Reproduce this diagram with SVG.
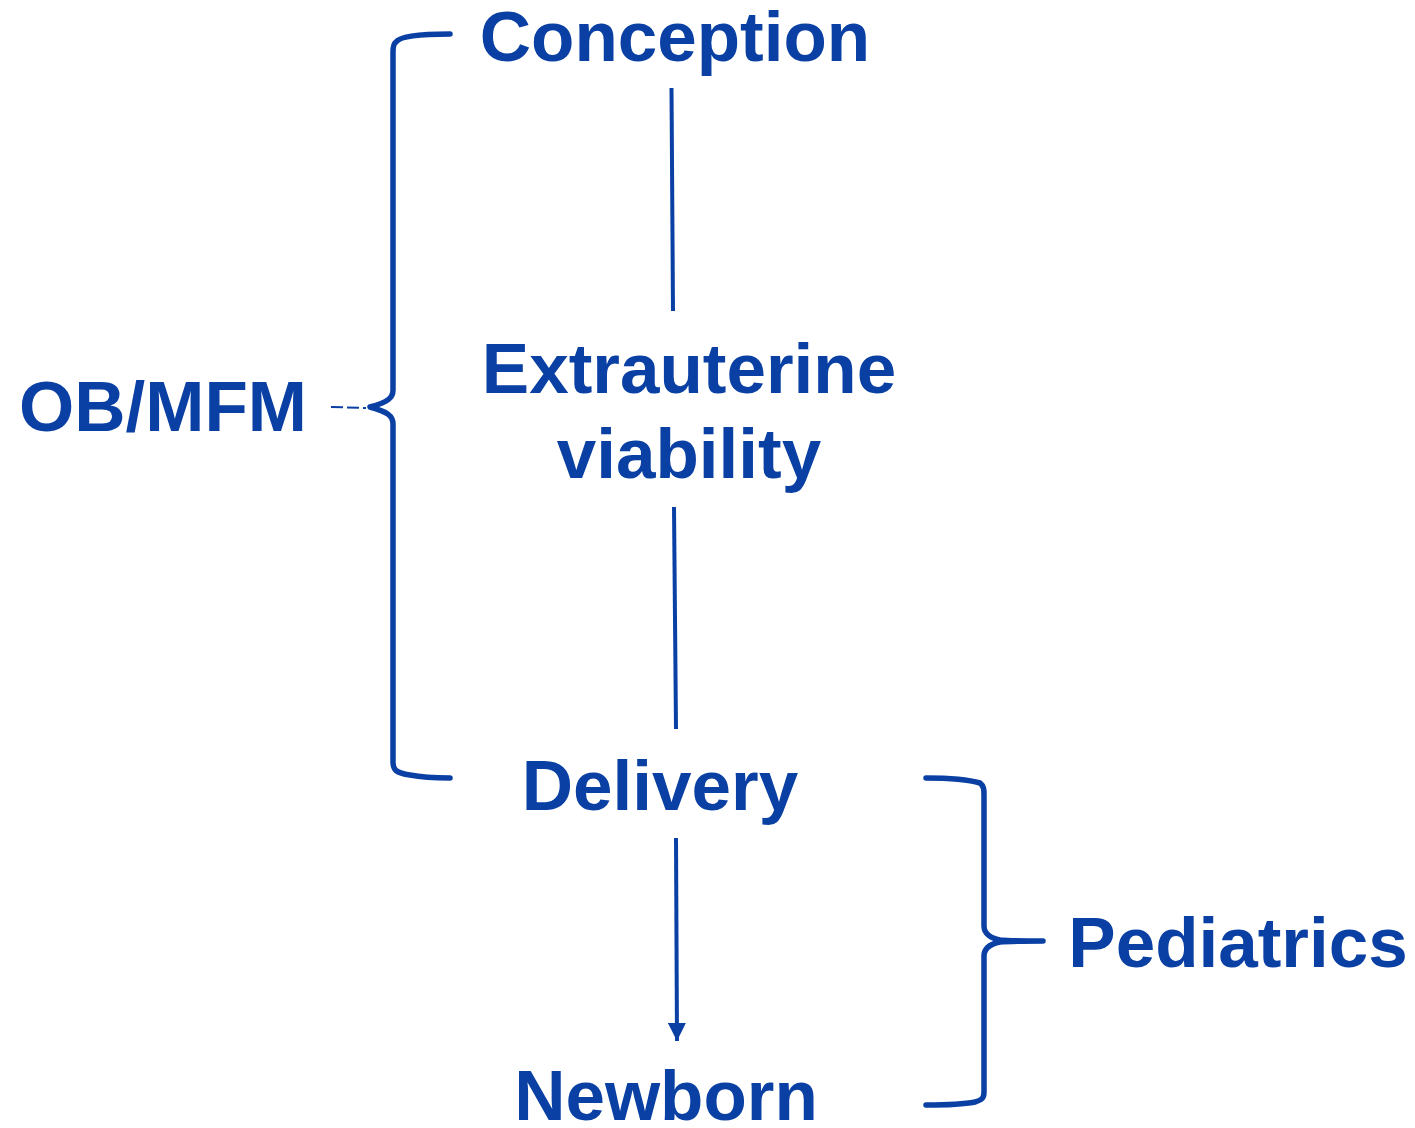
<svg xmlns="http://www.w3.org/2000/svg" width="1415" height="1128" viewBox="0 0 1415 1128">
<style>
.t{font-family:"Liberation Sans",Arial,sans-serif;font-weight:bold;font-size:71px;fill:#0A40A4;text-anchor:middle}
.c{stroke:#0A40A4;stroke-width:4;fill:none}
.b{stroke:#0A40A4;stroke-width:5.5;fill:none;stroke-linecap:round;stroke-linejoin:round}
</style>
<defs>
<marker id="ah" viewBox="0 0 10 10" refX="10" refY="5" markerWidth="4.5" markerHeight="4.5" markerUnits="strokeWidth" orient="auto">
<path d="M0,0 L10,5 L0,10 z" fill="#0A40A4"/>
</marker>
</defs>
<rect width="1415" height="1128" fill="#fff"/>
<g id="conception"><text class="t" x="675" y="61">Conception</text></g>
<g id="extrauterine"><text class="t" x="689" y="393">Extrauterine</text><text class="t" x="689" y="478">viability</text></g>
<g id="delivery"><text class="t" x="660" y="810">Delivery</text></g>
<g id="newborn"><text class="t" x="666" y="1120">Newborn</text></g>
<g id="obmfm"><text class="t" x="163" y="431">OB/MFM</text></g>
<g id="pediatrics"><text class="t" x="1238" y="967">Pediatrics</text></g>
<g id="connectors">
<line class="c" x1="671.5" y1="88" x2="673" y2="311"/>
<line class="c" x1="674" y1="507" x2="676" y2="729"/>
<line class="c" x1="676" y1="838" x2="677" y2="1041" marker-end="url(#ah)"/>
<path class="b" d="M450,34 C420,34 400,36 396,42 C393,44 393,48 393,52 L393,390 C393,398 388,402 370,407 C388,412 393,416 393,424 L393,762 C393,770 396,773 410,775 C420,777 440,778 450,778"/>
<line x1="331" y1="407" x2="366" y2="408" stroke="#0A40A4" stroke-width="2" stroke-dasharray="12,4"/>
<path class="b" d="M926,778 C950,778 970,780 980,783 C984,786 984,790 984,795 L984,926 C984,933 990,938 1000,940 C1010,941 1030,941 1043,941 C1030,941 1010,941 1000,942 C990,944 984,948 984,956 L984,1092 C984,1098 982,1100 975,1102 C965,1104 945,1105 926,1105"/>
</g>
</svg>
